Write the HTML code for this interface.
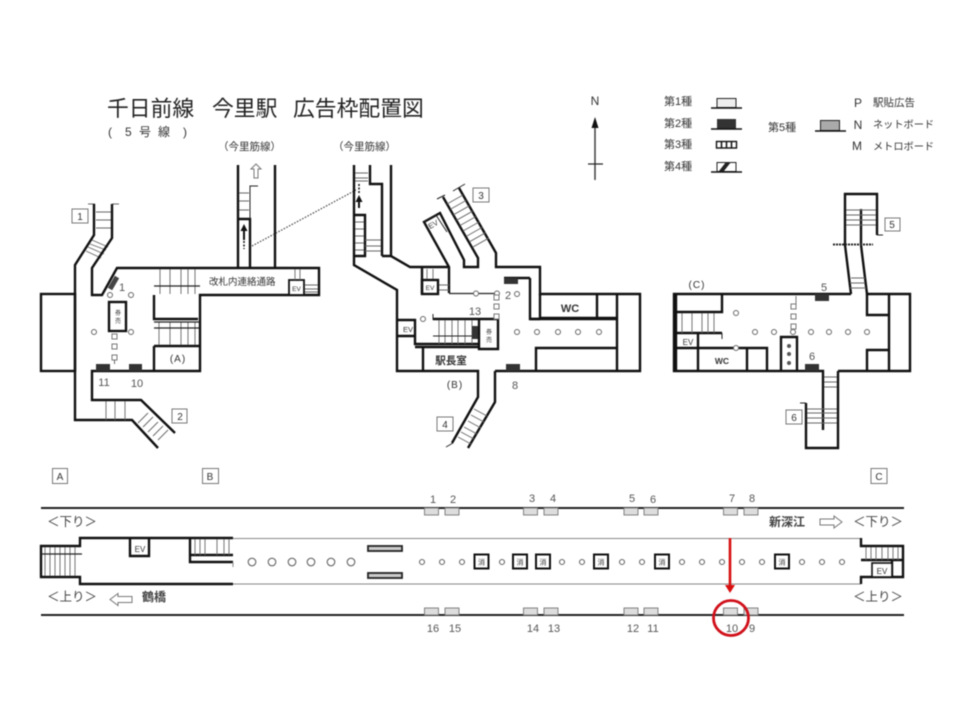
<!DOCTYPE html>
<html lang="ja"><head><meta charset="utf-8"><title>今里駅 広告枠配置図</title>
<style>
html,body{margin:0;padding:0;background:#fff}
svg{display:block;filter:blur(0.5px)}
text{font-family:"Liberation Sans","Noto Sans CJK JP",sans-serif;fill:#333}
.w{fill:none;stroke:#111;stroke-width:2.4;stroke-linejoin:miter}
.t{fill:none;stroke:#666;stroke-width:.9}
.m{fill:none;stroke:#222;stroke-width:1}
.c{fill:#fff;stroke:#666;stroke-width:1}
.d{fill:#333;stroke:none}
.a{fill:#ddd;stroke:#777;stroke-width:.9}
.b{fill:#fff;stroke:#777;stroke-width:1}
.s{font-size:10px;text-anchor:middle}
.n{font-size:11px;text-anchor:middle;fill:#555}
.k{fill:#fff;stroke:#111;stroke-width:2}
</style></head><body>
<svg width="960" height="720" viewBox="0 0 960 720" xmlns="http://www.w3.org/2000/svg">
<rect width="960" height="720" fill="#fff"/>

<!-- title -->
<text x="107" y="116" font-size="21.800" style="fill:#222">千日前線</text>
<text x="212" y="116" font-size="21.800" style="fill:#222">今里駅</text>
<text x="293" y="116" font-size="21.800" style="fill:#222">広告枠配置図</text>
<text x="108" y="136" font-size="12">(</text>
<text x="125" y="136" font-size="12">5</text><text x="139" y="136" font-size="12">号</text><text x="158" y="136" font-size="12">線</text><text x="183" y="136" font-size="12">)</text>
<text x="218" y="150" font-size="10.500">（今里筋線）</text>
<text x="333" y="150" font-size="10.500">（今里筋線）</text>
<path d="M254 178v-9h-3l5-5 5 5h-3v9z" class="b"/>

<!-- legend -->
<text x="595" y="105" style="font-size:12px;text-anchor:middle">N</text>
<path d="M595 125V180" stroke="#333" stroke-width="1.400"/>
<path d="M595 117l-3.500 11h7z" fill="#111"/>
<path d="M588 164h15" stroke="#222" stroke-width="1.200"/>
<g font-size="11">
<text x="664" y="105">第1種</text><text x="664" y="127">第2種</text><text x="664" y="148">第3種</text><text x="664" y="170">第4種</text>
<text x="768" y="131">第5種</text>
</g>
<rect x="717" y="98.500" width="19" height="9" fill="#eee" stroke="#222"/><path d="M711 108h31" stroke="#111" stroke-width="1.500"/>
<rect x="717" y="119" width="19" height="10" fill="#333"/><path d="M711 129h31" stroke="#111" stroke-width="1.500"/>
<rect x="716.500" y="141.500" width="20" height="6.500" fill="#fff" stroke="#111" stroke-width="1.400"/>
<path d="M721.500 141v7M726.500 141v7M731.500 141v7" stroke="#111" stroke-width="1.500"/>
<rect x="717" y="162.500" width="19" height="9" fill="#fff" stroke="#222"/><path d="M719 171l7-9h5l-7 9z" fill="#222"/><path d="M711 172h31" stroke="#111" stroke-width="1.500"/>
<rect x="820.500" y="120.500" width="19" height="10" fill="#aaa" stroke="#222"/><path d="M815 131h31" stroke="#111" stroke-width="1.500"/>
<text x="858" y="107" style="font-size:12px;text-anchor:middle">P</text>
<text x="858" y="129" style="font-size:12px;text-anchor:middle">N</text>
<text x="857" y="150" style="font-size:12px;text-anchor:middle">M</text>
<text x="873" y="106" font-size="10.500">駅貼広告</text>
<text x="873" y="128" font-size="10.200">ネットボード</text>
<text x="873" y="150" font-size="10.200">メトロボード</text>

<!-- LEFT PLAN -->
<g>
<path class="t" d="M88 204h7M112 204h7"/>
<path class="t" d="M96 212h16M96 220h16M96 228h16"/>
<path class="t" d="M92 240l16 7M90 244l16 6M88 247l16 7M86 251l15 7"/>
<path class="w" d="M94 204V235L75 265V420H132L158 448"/>
<path class="w" d="M112 204V238L92 268V295H102L117 268H319V295H200V371H92V400H141L175 433"/>
<rect class="w" x="41" y="294" width="34" height="77"/>
<path class="w" d="M154 295V319H198M154 346V371M154 346H200"/>
<path class="t" d="M160 269v25M170 269v25M181 269v25M188 269v25M195 269v25M159 322v23M170 322v23M181 322v23M188 322v23M195 322v23"/>
<path d="M154 286H200M154 322H199M154 328H199" stroke="#222" stroke-width="1.200"/>
<rect class="w" x="109" y="302" width="17" height="29"/>
<text x="118" y="315" style="font-size:6px;text-anchor:middle">券</text><text x="118" y="323" style="font-size:6px;text-anchor:middle">売</text>
<path d="M117 277L110 289" stroke="#444" stroke-width="5"/>
<rect class="d" x="96" y="364" width="14" height="7"/>
<rect class="d" x="129" y="364" width="13" height="7"/>
<circle class="c" cx="110" cy="295" r="2.500"/><circle class="c" cx="131" cy="295" r="2.500"/><circle class="c" cx="94" cy="332" r="2.500"/><circle class="c" cx="131" cy="332" r="2.500"/>
<rect class="b" x="112" y="334" width="5" height="5"/><rect class="b" x="112" y="344" width="5" height="5"/><rect class="b" x="112" y="355" width="5" height="5"/>
<path d="M114.500 360v4" stroke="#666" stroke-width="1"/>
<text x="122" y="291" class="n">1</text>
<text x="104" y="386" class="n">11</text><text x="137" y="387" class="n">10</text>
<text x="178" y="362" style="font-size:10px;text-anchor:middle;letter-spacing:1px">(A)</text>
<path class="t" d="M106 401v19M115 401v19M125 401v19M148 413l-10 10M153 417l-10 10M158 422l-10 10M163 426l-10 10M168 430l-10 10"/>
<!-- upper corridor -->
<path class="w" d="M238 165V268M275 165V268M238 219H250V268"/>
<path d="M250 219V186H258" class="m"/>
<path class="t" d="M239 193h10M239 201h10M239 210h10"/>
<path d="M244 240V230" stroke="#111" stroke-width="2"/><path d="M244 224l-3.500 7h7z" fill="#111"/><path d="M244 241v8" stroke="#111" stroke-width="1.500" stroke-dasharray="2 1.500"/>
<path d="M252 246L356 190" stroke="#444" stroke-width="1.200" stroke-dasharray="1.500 1.500" fill="none"/>
<text x="209" y="285" font-size="9.500">改札内連絡通路</text>
<rect class="k" x="289" y="280" width="15" height="15" style="stroke-width:1.800"/>
<text x="296.500" y="291" style="font-size:6.500px;text-anchor:middle">EV</text>
<path class="t" d="M295 269v11M300 269v11M305 285h13M305 289h13M305 292h13"/>
</g>

<!-- MIDDLE PLAN -->
<g>
<path class="w" d="M354 165V265L397 290V371H478V397L452 443"/>
<path class="w" d="M495 371V402L468 448"/>
<path class="w" d="M495 371H640V294H540V267H496V253L459 188"/>
<path class="w" d="M443 197L478 258V267H464V260L440 213L424 222L449 267V293"/>
<path class="w" d="M449 267H410L391 256V165M382 256H391M382 256V184H370V165"/>
<path class="w" d="M354 215H365V256H354"/>
<path d="M449 293.500H497" stroke="#222" stroke-width="1.300"/>
<path d="M453 191l12-7M437 199l8-4M446 447l7-4" class="m"/>
<path class="t" d="M447 204l16-9m-12.800 14.400l16-9m-12.800 14.400l16-9m-12.800 14.400l16-9m-12.800 14.400l16-9m-12.800 14.400l16-9m-12.800 14.400l16-9m-12.800 14.400l16-9m-12.800 14.400l16-9"/>
<path d="M424 222l12-7L447 232" fill="none" stroke="#222"/>
<text x="433" y="227" transform="rotate(-30 433 224)" style="font-size:7.500px;text-anchor:middle">EV</text>
<path class="t" d="M355 222h9M355 229h9M355 236h9M355 243h9M355 250h9M365 240h16M365 246h16M365 251h16"/>
<path d="M359 208V200" stroke="#111" stroke-width="2"/><path d="M359 195l-3.500 7h7z" fill="#111"/>
<path d="M359 184v9" stroke="#111" stroke-width="1.500" stroke-dasharray="2 1.500"/>
<path class="t" d="M355 173h13M355 178h13M355 181h13"/>
<rect x="422" y="280" width="16" height="14" fill="#fff" class="w"/>
<path class="w" d="M422 268V294"/>
<text x="430" y="290" style="font-size:6.500px;text-anchor:middle">EV</text>
<path class="t" d="M427 269v10M433 269v10M439 285h10M439 290h10"/>
<path class="w" d="M530 278H504M530 278V319H540M540 294V319"/>
<rect class="d" x="504" y="278" width="14" height="6"/>
<path class="w" d="M530 319H617M540 318H617M597 294V318"/>
<text x="570" y="312" style="font-size:11px;font-weight:bold;text-anchor:middle">WC</text>
<path class="w" d="M617 294V371M536 371V348H617"/>
<rect class="d" x="506" y="364" width="14" height="7"/>
<path class="w" d="M397 320H415V344H478M397 336H415M423 347V371M415 347H478"/>
<text x="408" y="332" style="font-size:7.500px;text-anchor:middle">EV</text>
<path class="w" d="M433 319H498V349H479V320"/>
<path d="M433 314v6" class="m"/>
<text x="489" y="334" style="font-size:6px;text-anchor:middle">券</text><text x="489" y="342" style="font-size:6px;text-anchor:middle">売</text>
<path class="t" d="M439 320v24M445 320v24M452 320v24M458 320v24M465 320v24M472 320v24"/>
<path d="M433 336H479" stroke="#222" stroke-width="1.100"/>
<rect class="d" x="472" y="326" width="6" height="13"/>
<text x="451" y="364" font-size="10.500" style="font-weight:bold;text-anchor:middle">駅長室</text>
<text x="455" y="388" style="font-size:10px;text-anchor:middle;letter-spacing:1px">(B)</text>
<text x="475" y="315" class="n">13</text><text x="508" y="299" class="n">2</text><text x="515" y="389" class="n">8</text>
<circle class="c" cx="476" cy="293.500" r="2.500"/><circle class="c" cx="497" cy="293.500" r="2.500"/><circle class="c" cx="517" cy="294" r="2.500"/><circle class="c" cx="423" cy="319" r="2.500"/>
<circle class="c" cx="517" cy="332" r="2.500"/><circle class="c" cx="537" cy="332" r="2.500"/><circle class="c" cx="558" cy="332" r="2.500"/><circle class="c" cx="578" cy="332" r="2.500"/><circle class="c" cx="599" cy="332" r="2.500"/>
<rect class="b" x="494" y="295" width="5" height="5"/><rect class="b" x="494" y="304" width="5" height="5"/><rect class="b" x="494" y="314" width="5" height="5"/>
<path class="t" d="M474 409l13 7M471 415l13 7M468 421l13 7M464 427l13 7M461 432l13 7M458 437l13 7"/>
</g>

<!-- RIGHT PLAN -->
<g>
<path class="w" d="M851 294H674V371H823V430M838 371V448H806V403"/>
<path d="M806 403h-6M877 235h6" class="m"/>
<path class="w" d="M851 294L845 245V194H877V235M861 209V245L867 294H910V371H838"/>
<path d="M833 244.500H873" stroke="#222" stroke-width="2" stroke-dasharray="2 1"/>
<path class="t" d="M846 210h30M846 215h30M846 220h30M846 225h30M851 278h14M850 283h15M850 288h16"/>
<path class="w" d="M889 294V371M867 294V315H889M867 371V350H889"/>
<path class="w" d="M676 294V371M676 312H722V294M676 333H722M676 348H767V371M698 333V371M747 348V371"/>
<path d="M722 333v6" class="m"/>
<path class="t" d="M682 313v20M692 313v20M702 313v20M708 313v20M714 313v20"/>
<text x="688" y="345" style="font-size:8px;text-anchor:middle">EV</text>
<text x="722" y="364" style="font-size:8.500px;font-weight:bold;text-anchor:middle">WC</text>
<text x="697" y="288" style="font-size:10px;text-anchor:middle;letter-spacing:1px">(C)</text>
<circle class="c" cx="736" cy="313" r="2.500"/><circle class="c" cx="736" cy="348" r="2.500"/>
<circle class="c" cx="755" cy="332" r="2.500"/><circle class="c" cx="774" cy="332" r="2.500"/><circle class="c" cx="793" cy="332" r="2.500"/><circle class="c" cx="811" cy="332" r="2.500"/><circle class="c" cx="829" cy="332" r="2.500"/><circle class="c" cx="848" cy="332" r="2.500"/><circle class="c" cx="867" cy="332" r="2.500"/>
<rect class="b" x="791" y="304" width="5" height="5"/><rect class="b" x="791" y="314" width="5" height="5"/><rect class="b" x="791" y="324" width="5" height="5"/>
<path d="M796 296v8" stroke="#777"/>
<path class="w" d="M781 371V337H797V371"/>
<circle cx="789" cy="346" r="2" fill="#555"/><circle cx="789" cy="354" r="2" fill="#555"/><circle cx="789" cy="363" r="2" fill="#555"/>
<rect class="d" x="815" y="294" width="14" height="7"/>
<rect class="d" x="805" y="364" width="14" height="7"/>
<text x="824" y="291" class="n">5</text><text x="812" y="360" class="n">6</text>
<path class="t" d="M824 377h13M824 382h13M824 387h13M807 409h30M807 413h30M807 418h30M807 423h30"/>
</g>

<!-- boxed labels -->
<g fill="#fff" stroke="#777" stroke-width="1">
<rect x="72" y="209" width="16" height="14"/><rect x="172" y="409" width="15" height="14"/><rect x="473" y="188" width="16" height="14"/><rect x="437" y="417" width="16" height="14"/><rect x="885" y="218" width="15" height="13"/><rect x="786" y="410" width="16" height="14"/>
<rect x="52.500" y="468.500" width="15" height="15"/><rect x="202.500" y="468.500" width="16" height="15"/><rect x="871" y="468.500" width="16" height="15"/>
</g>
<g>
<text x="80" y="220" class="s">1</text><text x="180" y="420" class="s">2</text><text x="481" y="199" class="s">3</text><text x="445" y="428" class="s">4</text><text x="892" y="228" class="s">5</text><text x="794" y="421" class="s">6</text>
<text x="60" y="480" class="s">A</text><text x="210" y="480" class="s">B</text><text x="879" y="480" class="s">C</text>
</g>

<!-- PLATFORM -->
<path d="M41 508H904M41 615H904" stroke="#222" stroke-width="2"/>
<g class="a">
<rect x="424.500" y="508" width="14" height="7"/><rect x="445" y="508" width="14" height="7"/><rect x="523.500" y="508" width="14" height="7"/><rect x="544" y="508" width="14" height="7"/><rect x="624" y="508" width="14" height="7"/><rect x="644" y="508" width="14" height="7"/><rect x="723.500" y="508" width="14" height="7"/><rect x="744" y="508" width="14" height="7"/>
<rect x="424.500" y="608" width="14" height="7"/><rect x="445" y="608" width="14" height="7"/><rect x="523.500" y="608" width="14" height="7"/><rect x="544" y="608" width="14" height="7"/><rect x="624" y="608" width="14" height="7"/><rect x="644" y="608" width="14" height="7"/><rect x="723.500" y="608" width="14" height="7"/><rect x="744" y="608" width="14" height="7"/>
</g>
<g>
<text x="433" y="503" class="n">1</text><text x="453" y="503" class="n">2</text><text x="532" y="502" class="n">3</text><text x="553" y="502" class="n">4</text><text x="632" y="502" class="n">5</text><text x="653" y="503" class="n">6</text><text x="732" y="502" class="n">7</text><text x="752" y="502" class="n">8</text>
<text x="433" y="632" class="n">16</text><text x="455" y="632" class="n">15</text><text x="533" y="632" class="n">14</text><text x="554" y="632" class="n">13</text><text x="633" y="632" class="n">12</text><text x="653" y="632" class="n">11</text><text x="732" y="632" class="n">10</text><text x="752" y="632" class="n">9</text>
</g>
<text x="47" y="526" font-size="12.500" style="fill:#444">＜下り＞</text>
<text x="47" y="601" font-size="12.500" style="fill:#444">＜上り＞</text>
<text x="853" y="526" font-size="12.500" style="fill:#444">＜下り＞</text>
<text x="853" y="601" font-size="12.500" style="fill:#444">＜上り＞</text>
<text x="142" y="601" font-size="12" style="font-weight:bold;fill:#444">鶴橋</text>
<text x="769" y="526" font-size="12" style="font-weight:bold;fill:#444">新深江</text>
<path d="M132 597h-14v-3l-8 6 8 6v-3h14z" class="b" transform="translate(0 -0.500)"/>
<path d="M820 519h14v-3l8 6-8 6v-3h-14z" class="b"/>

<path d="M233 538.500H861M233 584H861" stroke="#888" stroke-width="1"/>
<path class="w" d="M233 538H80V546H41V577H80V584H233"/>
<path class="t" d="M45 547v29M50 547v29M55 547v29M60 547v29M65 547v29M70 547v29M75 547v29"/>
<path d="M41 554H82" stroke="#222" stroke-width="1.200"/>
<path d="M130 539V556H149V539" class="w"/>
<text x="140" y="552" style="font-size:8px;text-anchor:middle">EV</text>
<path class="w" d="M190 539V562H233M190 555H233"/>
<path class="t" d="M195 539v16M200 539v16M205 539v16M217 539v16M224 539v16M229 539v16"/>
<path d="M233 562v5" stroke="#888"/>
<g class="c" style="stroke-width:1.100">
<circle cx="252" cy="562" r="3.800"/><circle cx="272" cy="562" r="3.800"/><circle cx="292" cy="562" r="3.800"/><circle cx="311" cy="562" r="3.800"/><circle cx="331" cy="562" r="3.800"/><circle cx="351" cy="562" r="3.800"/>
<circle cx="422" cy="562" r="2.500"/><circle cx="442" cy="562" r="2.500"/><circle cx="462" cy="562" r="2.500"/><circle cx="502" cy="562" r="2.500"/><circle cx="562" cy="562" r="2.500"/><circle cx="582" cy="562" r="2.500"/><circle cx="622" cy="562" r="2.500"/><circle cx="642" cy="562" r="2.500"/><circle cx="682" cy="562" r="2.500"/><circle cx="702" cy="562" r="2.500"/><circle cx="722" cy="562" r="2.500"/><circle cx="742" cy="562" r="2.500"/><circle cx="762" cy="562" r="2.500"/><circle cx="802" cy="562" r="2.500"/><circle cx="822" cy="562" r="2.500"/><circle cx="842" cy="562" r="2.500"/>
</g>
<rect x="368" y="546" width="34" height="5" fill="#ccc" stroke="#222" stroke-width="1.800"/>
<rect x="368" y="573" width="34" height="5" fill="#ccc" stroke="#222" stroke-width="1.800"/>
<g class="k">
<rect x="474.500" y="554.500" width="14" height="14"/><rect x="513" y="554.500" width="14" height="14"/><rect x="536" y="554.500" width="14" height="14"/><rect x="594" y="554.500" width="14" height="14"/><rect x="655" y="554.500" width="14" height="14"/><rect x="775" y="554.500" width="14" height="14"/>
</g>
<g>
<text x="481.500" y="564.500" style="font-size:7px;text-anchor:middle">消</text><text x="520" y="564.500" style="font-size:7px;text-anchor:middle">消</text><text x="543" y="564.500" style="font-size:7px;text-anchor:middle">消</text><text x="601" y="564.500" style="font-size:7px;text-anchor:middle">消</text><text x="662" y="564.500" style="font-size:7px;text-anchor:middle">消</text><text x="782" y="564.500" style="font-size:7px;text-anchor:middle">消</text>
</g>
<path class="w" d="M861 538V546H903V577H861V584"/>
<path class="w" d="M861 560H903M892 560V577"/>
<rect x="872" y="563" width="20" height="14" fill="#fff" stroke="#111" stroke-width="1.600"/>
<text x="882" y="574" style="font-size:8px;text-anchor:middle">EV</text>
<path class="t" d="M866 547v13M871 547v13M876 547v13M882 547v13M888 547v13M893 547v13M898 547v13"/>

<!-- red marker -->
<path d="M730 538V585" stroke="#d80f0f" stroke-width="2.600"/>
<path d="M725 585h10l-5 8z" fill="#d80f0f"/>
<circle cx="731" cy="618" r="17.500" fill="none" stroke="#d0101a" stroke-width="2.800"/>
</svg>
</body></html>
